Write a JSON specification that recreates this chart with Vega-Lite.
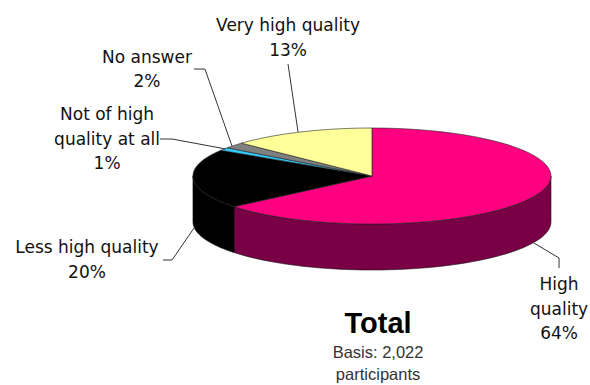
{
  "$schema": "https://vega.github.io/schema/vega-lite/v6.json",
  "width": 590,
  "height": 385,
  "padding": 0,
  "autosize": "none",
  "background": "white",
  "view": {"stroke": null},
  "config": {"view": {"stroke": null}},
  "datasets": {
    "slices": [
      {"slice": "High quality", "share": 64},
      {"slice": "Less high quality", "share": 20},
      {"slice": "Not of high quality at all", "share": 1},
      {"slice": "No answer", "share": 2},
      {"slice": "Very high quality", "share": 13}
    ],
    "leaders": [
      {"leader": "Very high quality", "step": 0, "u": -0.469, "v": 2.333},
      {"leader": "Very high quality", "step": 1, "u": -0.413, "v": 0.917},
      {"leader": "No answer", "step": 0, "u": -0.994, "v": 2.229},
      {"leader": "No answer", "step": 1, "u": -0.933, "v": 2.229},
      {"leader": "No answer", "step": 2, "u": -0.782, "v": 0.625},
      {"leader": "Not of high quality at all", "step": 0, "u": -1.184, "v": 0.771},
      {"leader": "Not of high quality at all", "step": 1, "u": -1.117, "v": 0.771},
      {"leader": "Not of high quality at all", "step": 2, "u": -0.816, "v": 0.5625},
      {"leader": "Less high quality", "step": 0, "u": -1.168, "v": -1.75},
      {"leader": "Less high quality", "step": 1, "u": -1.117, "v": -1.75},
      {"leader": "Less high quality", "step": 2, "u": -0.994, "v": -1.083},
      {"leader": "High quality", "step": 0, "u": 0.905, "v": -1.396},
      {"leader": "High quality", "step": 1, "u": 1.045, "v": -1.708},
      {"leader": "High quality", "step": 2, "u": 1.045, "v": -1.917}
    ],
    "labels": [
      {"label": "Very high quality\n13%", "u": -0.469, "v": 3.125},
      {"label": "No answer\n2%", "u": -1.257, "v": 2.469},
      {"label": "Not of high\nquality at all\n1%", "u": -1.48, "v": 1.271},
      {"label": "Less high quality\n20%", "u": -1.592, "v": -1.5},
      {"label": "High\nquality\n64%", "u": 1.045, "v": -2.271}
    ],
    "title": [{"label": "Total", "u": 0.034, "v": -3.083}],
    "basis": [{"label": "Basis: 2,022\nparticipants", "u": 0.034, "v": -3.69}]
  },
  "layer": [
    {
      "data": {"name": "slices"},
      "transform": [
        {"window": [{"op": "sum", "field": "share", "as": "cumulative"}]},
        {"calculate": "(datum.cumulative - datum.share) / 100 * 2 * PI", "as": "start"},
        {"calculate": "datum.cumulative / 100 * 2 * PI", "as": "end"},
        {"calculate": "sequence(0, 62)", "as": "k"},
        {"flatten": ["k"]}
      ],
      "layer": [
        {
          "transform": [
            {"calculate": "max(datum.start, PI / 2)", "as": "wallStart"},
            {"calculate": "min(datum.end, 3 * PI / 2)", "as": "wallEnd"},
            {"filter": "datum.wallEnd > datum.wallStart && datum.k <= 60"},
            {"calculate": "datum.wallStart + (datum.wallEnd - datum.wallStart) * datum.k / 60", "as": "t"},
            {"calculate": "sin(datum.t)", "as": "u"},
            {"calculate": "cos(datum.t)", "as": "v"},
            {"calculate": "datum.v - 0.958", "as": "vBase"}
          ],
          "mark": {"type": "area", "stroke": "#111111", "strokeWidth": 0.6},
          "encoding": {
            "x": {"field": "u", "type": "quantitative", "scale": {"domain": [-2.078, 1.218]}, "axis": null},
            "y": {"field": "v", "type": "quantitative", "scale": {"domain": [-4.354, 3.667]}, "axis": null},
            "y2": {"field": "vBase"},
            "color": {
              "field": "slice",
              "type": "nominal",
              "legend": null,
              "scale": {"domain": ["High quality", "Less high quality"], "range": ["#7a0045", "#000000"]}
            }
          }
        },
        {
          "transform": [
            {"calculate": "datum.k <= 60 ? datum.start + (datum.end - datum.start) * datum.k / 60 : datum.start", "as": "t"},
            {"calculate": "datum.k <= 60 ? 1 : 0", "as": "r"},
            {"calculate": "datum.r * sin(datum.t)", "as": "u"},
            {"calculate": "datum.r * cos(datum.t)", "as": "v"}
          ],
          "mark": {"type": "line", "interpolate": "linear-closed", "stroke": "#222222", "strokeWidth": 0.6},
          "encoding": {
            "x": {"field": "u", "type": "quantitative", "scale": {"domain": [-2.078, 1.218]}, "axis": null},
            "y": {"field": "v", "type": "quantitative", "scale": {"domain": [-4.354, 3.667]}, "axis": null},
            "order": {"field": "k"},
            "detail": {"field": "slice"},
            "fill": {
              "field": "slice",
              "type": "nominal",
              "legend": null,
              "scale": {
                "domain": ["High quality", "Less high quality", "Not of high quality at all", "No answer", "Very high quality"],
                "range": ["#ff0080", "#000000", "#33ccff", "#808080", "#ffff99"]
              }
            }
          }
        }
      ]
    },
    {
      "data": {"name": "leaders"},
      "mark": {"type": "line", "stroke": "#333333", "strokeWidth": 1},
      "encoding": {
        "x": {"field": "u", "type": "quantitative", "scale": {"domain": [-2.078, 1.218]}, "axis": null},
        "y": {"field": "v", "type": "quantitative", "scale": {"domain": [-4.354, 3.667]}, "axis": null},
        "order": {"field": "step"},
        "detail": {"field": "leader"}
      }
    },
    {
      "data": {"name": "labels"},
      "mark": {"type": "text", "font": "DejaVu Sans", "fontSize": 17, "lineBreak": "\n", "lineHeight": 24.5, "align": "center", "baseline": "middle", "color": "#111111"},
      "encoding": {
        "x": {"field": "u", "type": "quantitative", "scale": {"domain": [-2.078, 1.218]}, "axis": null},
        "y": {"field": "v", "type": "quantitative", "scale": {"domain": [-4.354, 3.667]}, "axis": null},
        "text": {"field": "label"}
      }
    },
    {
      "data": {"name": "title"},
      "mark": {"type": "text", "font": "Liberation Sans", "fontSize": 29, "fontWeight": "bold", "align": "center", "baseline": "middle", "color": "#000000"},
      "encoding": {
        "x": {"field": "u", "type": "quantitative", "scale": {"domain": [-2.078, 1.218]}, "axis": null},
        "y": {"field": "v", "type": "quantitative", "scale": {"domain": [-4.354, 3.667]}, "axis": null},
        "text": {"field": "label"}
      }
    },
    {
      "data": {"name": "basis"},
      "mark": {"type": "text", "font": "Liberation Sans", "fontSize": 16.5, "lineBreak": "\n", "lineHeight": 22, "align": "center", "baseline": "middle", "color": "#333333"},
      "encoding": {
        "x": {"field": "u", "type": "quantitative", "scale": {"domain": [-2.078, 1.218]}, "axis": null},
        "y": {"field": "v", "type": "quantitative", "scale": {"domain": [-4.354, 3.667]}, "axis": null},
        "text": {"field": "label"}
      }
    }
  ]
}
